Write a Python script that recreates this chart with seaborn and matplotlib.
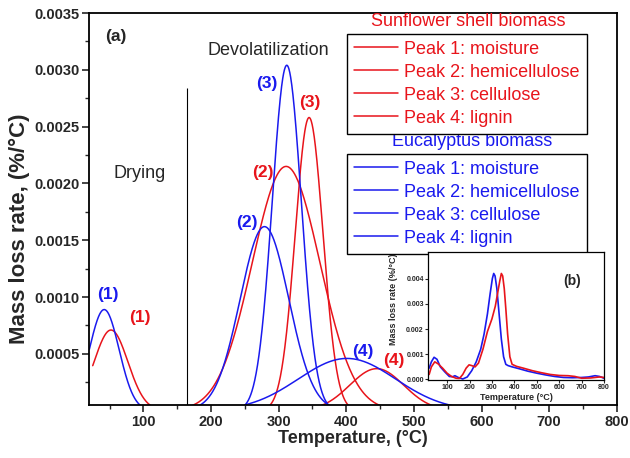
import numpy as np
import pandas as pd
import matplotlib
matplotlib.use("Agg")
import matplotlib.pyplot as plt
import seaborn as sns

# Peak deconvolution components (Gaussian peaks)
peak_names = ["Peak 1: moisture", "Peak 2: hemicellulose", "Peak 3: cellulose", "Peak 4: lignin"]
peak_tags = ["(1)", "(2)", "(3)", "(4)"]

sun_center = [52, 311, 345, 445]
sun_height = [0.00071, 0.00215, 0.00258, 0.00037]
sun_width = [25, 50, 20.5, 40]
sun_start = [25, 160, 280, 340]
sun_end = [130, 460, 410, 560]

euc_center = [42, 279, 312, 401]
euc_height = [0.00089, 0.00162, 0.00304, 0.00046]
euc_width = [22, 36, 21.5, 72]
euc_start = [20, 180, 250, 250]
euc_end = [110, 380, 375, 560]

# peak tag label positions (temperature, rate)
sun_tag_x = [95, 277, 346, 471]
sun_tag_y = [0.00082, 0.00210, 0.00271, 0.000446]
euc_tag_x = [47, 253, 283, 425]
euc_tag_y = [0.00102, 0.00166, 0.00288, 0.00052]

# inset (b): measured DTG curves
inset_euc_T = [20, 30, 42, 55, 70, 90, 110, 125, 135, 150, 170, 190, 210, 230, 250, 265, 280, 292,
               302, 308, 314, 322, 332, 342, 352, 362, 372, 390, 420, 460, 500, 540, 580, 620,
               660, 700, 730, 760, 780, 800]
inset_euc_v = [0.00045, 0.0007, 0.00088, 0.0008, 0.0005, 0.0003, 0.00012, 0.00011, 0.00015, 0.00008,
               0.00002, 0.0001, 0.00035, 0.0007, 0.0012, 0.0018, 0.0026, 0.0034, 0.0040, 0.0042,
               0.0041, 0.0036, 0.0026, 0.0016, 0.0009, 0.0006, 0.00055, 0.0005, 0.00043, 0.00033,
               0.00025, 0.00018, 0.00012, 0.00008, 0.00007, 0.00008, 0.0001, 0.00015, 0.00012, 0.00005]
inset_sun_T = [20, 30, 45, 60, 80, 100, 120, 140, 155, 170, 185, 198, 210, 225, 240, 260, 280, 300,
               315, 325, 335, 342, 348, 355, 362, 370, 380, 390, 410, 440, 480, 520, 560, 600, 640,
               670, 700, 740, 780, 800]
inset_sun_v = [0.0002, 0.0005, 0.0007, 0.00062, 0.00045, 0.00025, 0.00012, 0.00005, 0.00004, 0.0002,
               0.00045, 0.00058, 0.00055, 0.0005, 0.00065, 0.0012, 0.0019, 0.0024, 0.0029, 0.0034,
               0.0039, 0.0042, 0.0041, 0.0036, 0.0028, 0.0018, 0.0009, 0.0006, 0.00052, 0.00045,
               0.00035, 0.00027, 0.0002, 0.00016, 0.00015, 0.00012, 0.00005, 0.00006, 0.0001, 0.00008]

RED = "#e8141b"
BLUE = "#1a1aee"

sns.set_theme(style="ticks")
plt.rcParams["font.family"] = ["Liberation Sans", "DejaVu Sans"]
plt.rcParams["axes.linewidth"] = 1.3


def peak_frame(center, height, width, start, end):
    T = np.linspace(start, end, 300)
    return pd.DataFrame({"T": T, "rate": height * np.exp(-0.5 * ((T - center) / width) ** 2)})


fig = plt.figure(figsize=(6.3, 4.58), dpi=100)
ax = fig.add_axes([0.1418, 0.1157, 0.8372, 0.8559])

for i in range(4):
    df = peak_frame(sun_center[i], sun_height[i], sun_width[i], sun_start[i], sun_end[i])
    sns.lineplot(data=df, x="T", y="rate", color=RED, lw=1.1, label=peak_names[i], ax=ax)
for i in range(4):
    df = peak_frame(euc_center[i], euc_height[i], euc_width[i], euc_start[i], euc_end[i])
    sns.lineplot(data=df, x="T", y="rate", color=BLUE, lw=1.1, label=peak_names[i], ax=ax)

for i in range(4):
    ax.text(sun_tag_x[i], sun_tag_y[i], peak_tags[i], color=RED, fontsize=12.5,
            fontweight="bold", ha="center", va="center")
    ax.text(euc_tag_x[i], euc_tag_y[i], peak_tags[i], color=BLUE, fontsize=12.5,
            fontweight="bold", ha="center", va="center")

ax.set_xlim(20, 800)
ax.set_ylim(0.00005, 0.0035)
ax.set_xticks(np.arange(100, 801, 100))
ax.set_xticks(np.arange(50, 800, 50), minor=True)
ax.set_yticks(np.arange(0.0005, 0.00351, 0.0005))
ax.set_yticks(np.arange(0.00025, 0.0035, 0.00025), minor=True)
ax.set_yticklabels([f"{v:.4f}" for v in np.arange(0.0005, 0.00351, 0.0005)])
ax.tick_params(which="major", direction="out", length=5, width=1.2, labelsize=10.5, pad=2)
ax.tick_params(which="minor", direction="out", length=3, width=1.0)
for lab in ax.get_xticklabels() + ax.get_yticklabels():
    lab.set_fontweight("bold")
ax.set_xlabel("Temperature, (°C)", fontsize=13, fontweight="bold", labelpad=1)
ax.set_ylabel("Mass loss rate, (%/°C)", fontsize=16, fontweight="bold")
ax.yaxis.set_label_coords(-0.112, 0.45)
for sp in ax.spines.values():
    sp.set_color("black")

# stage separator and annotations
ax.vlines(164, 0.00005, 0.00284, color="black", lw=0.8)
ax.text(95, 0.00209, "Drying", fontsize=13, ha="center", va="center")
ax.text(284, 0.00317, "Devolatilization", fontsize=13, ha="center", va="center")
ax.text(0.03, 0.94, "(a)", transform=ax.transAxes, fontsize=12.5, fontweight="bold", va="center")

handles, labels = ax.get_legend_handles_labels()
leg_kw = dict(loc="upper left", fontsize=13, handlelength=2.4, handletextpad=0.35,
              labelspacing=0.33, borderpad=0.4, borderaxespad=0, frameon=True,
              fancybox=False, framealpha=1, edgecolor="black")
leg1 = ax.legend(handles[:4], labels[:4], bbox_to_anchor=(0.4886, 0.9477), labelcolor=RED, **leg_kw)
leg1.get_frame().set_linewidth(1.0)
ax.add_artist(leg1)
leg2 = ax.legend(handles[4:8], labels[4:8], bbox_to_anchor=(0.4886, 0.6416), labelcolor=BLUE, **leg_kw)
leg2.get_frame().set_linewidth(1.0)
ax.text(0.718, 0.9796, "Sunflower shell biomass", transform=ax.transAxes, color=RED,
        fontsize=13, ha="center", va="center")
ax.text(0.7256, 0.673, "Eucalyptus biomass", transform=ax.transAxes, color=BLUE,
        fontsize=13, ha="center", va="center")

# inset (b)
axin = fig.add_axes([0.6794, 0.1703, 0.2794, 0.2795])
sns.lineplot(x=inset_euc_T, y=inset_euc_v, color=BLUE, lw=1.2, ax=axin)
sns.lineplot(x=inset_sun_T, y=inset_sun_v, color=RED, lw=1.2, ax=axin)
axin.set_xlim(15, 800)
axin.set_ylim(-0.00002, 0.00505)
axin.set_xticks(np.arange(100, 801, 100))
axin.set_yticks(np.arange(0, 0.0041, 0.001))
axin.set_yticklabels([f"{v:.3f}" for v in np.arange(0, 0.0041, 0.001)])
axin.tick_params(direction="out", length=2, width=0.8, labelsize=5, pad=1)
for lab in axin.get_xticklabels() + axin.get_yticklabels():
    lab.set_fontweight("bold")
axin.set_xlabel("Temperature (°C)", fontsize=6.5, fontweight="bold", labelpad=1)
axin.set_ylabel("Mass loss rate (%/°C)", fontsize=6.5, fontweight="bold")
axin.yaxis.set_label_coords(-0.17, 0.63)
for sp in axin.spines.values():
    sp.set_linewidth(0.9)
    sp.set_color("black")
axin.text(0.82, 0.77, "(b)", transform=axin.transAxes, fontsize=10, fontweight="bold",
          ha="center", va="center")

fig.savefig("out.png", dpi=100)
